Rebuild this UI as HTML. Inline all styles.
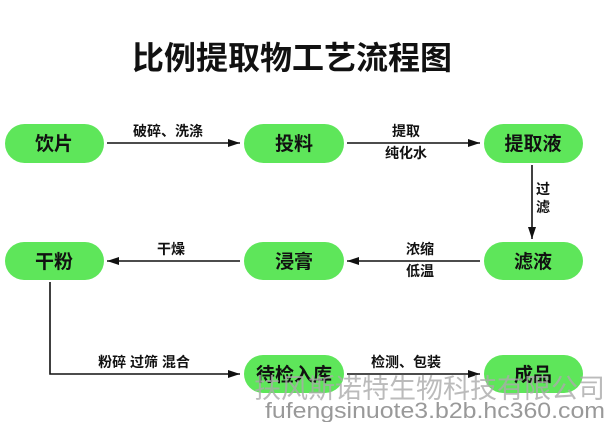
<!DOCTYPE html>
<html><head><meta charset="utf-8"><style>
body{margin:0;width:610px;height:422px;background:#fff;overflow:hidden;font-family:"Liberation Sans","Noto Sans CJK SC",sans-serif}
</style></head><body>
<svg width="610" height="422" xmlns="http://www.w3.org/2000/svg" font-family="Liberation Sans, Noto Sans CJK SC, sans-serif">
<defs><marker id="a" markerWidth="12" markerHeight="8" refX="12" refY="4" orient="auto" markerUnits="userSpaceOnUse"><path d="M0,0 L12,4 L0,8 z" fill="#111"/></marker></defs>
<text x="292" y="69" font-size="32" font-weight="bold" text-anchor="middle" fill="#111">比例提取物工艺流程图</text>
<g fill="#5ee65a">
<rect x="5" y="124" width="99" height="39" rx="19.5"/>
<rect x="244" y="124" width="100" height="39" rx="19.5"/>
<rect x="484" y="124" width="99" height="39" rx="19.5"/>
<rect x="5" y="242" width="99" height="38" rx="19"/>
<rect x="244" y="242" width="100" height="38" rx="19"/>
<rect x="484" y="242" width="99" height="38" rx="19"/>
<rect x="244" y="355" width="100" height="38" rx="19"/>
<rect x="484" y="355" width="99" height="38" rx="19"/>
</g>
<g font-size="19" font-weight="bold" text-anchor="middle" fill="#111">
<text x="54" y="150">饮片</text><text x="294" y="150">投料</text><text x="533" y="150">提取液</text>
<text x="54" y="268">干粉</text><text x="294" y="268">浸膏</text><text x="533" y="268">滤液</text>
<text x="294" y="381">待检入库</text><text x="533" y="381">成品</text>
</g>
<g stroke="#111" stroke-width="1.6" fill="none" marker-end="url(#a)">
<line x1="107" y1="143" x2="240" y2="143"/>
<line x1="347" y1="143" x2="480" y2="143"/>
<line x1="532" y1="165" x2="532" y2="239"/>
<line x1="480" y1="261" x2="347" y2="261"/>
<line x1="240" y1="261" x2="107" y2="261"/>
<polyline points="50,282 50,374 240,374"/>
<line x1="347" y1="374" x2="480" y2="374"/>
</g>
<g font-size="14" font-weight="bold" text-anchor="middle" fill="#111">
<text x="168" y="136">破碎、洗涤</text>
<text x="406" y="136">提取</text><text x="406" y="158">纯化水</text>
<text x="543" y="194">过</text><text x="543" y="212">滤</text>
<text x="420" y="254">浓缩</text><text x="420" y="276">低温</text>
<text x="171" y="254">干燥</text>
<text x="144" y="367">粉碎 过筛 混合</text>
<text x="406" y="367">检测、包装</text>
</g>
<text x="605" y="398" font-size="27" text-anchor="end" fill="#aaa" fill-opacity="0.8">扶风斯诺特生物科技有限公司</text>
<text x="605" y="418" font-size="22" text-anchor="end" fill="#999" textLength="340" lengthAdjust="spacingAndGlyphs">fufengsinuote3.b2b.hc360.com</text>
</svg>
</body></html>
